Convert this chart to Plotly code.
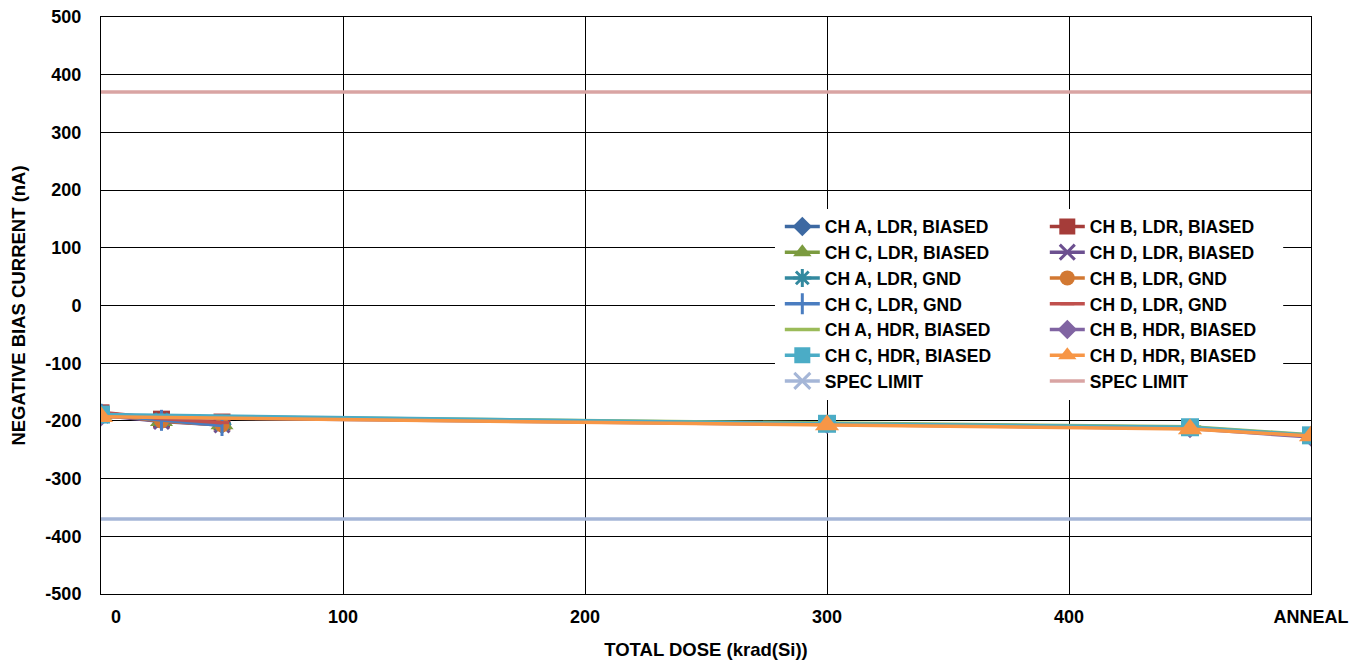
import plotly.graph_objects as go

# ---------------- data ----------------
X_LDR = [0, 25, 50]
X_HDR = [0, 300, 450, 500]          # 500 == ANNEAL position
SPEC_X = [-30, 530]

names = [
    "CH A, LDR, BIASED", "CH B, LDR, BIASED",
    "CH C, LDR, BIASED", "CH D, LDR, BIASED",
    "CH A, LDR, GND", "CH B, LDR, GND",
    "CH C, LDR, GND", "CH D, LDR, GND",
    "CH A, HDR, BIASED", "CH B, HDR, BIASED",
    "CH C, HDR, BIASED", "CH D, HDR, BIASED",
    "SPEC LIMIT", "SPEC LIMIT",
]

ch_a_ldr_biased = [-188, -199, -206]
ch_b_ldr_biased = [-186, -197, -202]
ch_c_ldr_biased = [-189, -200, -206]
ch_d_ldr_biased = [-190, -201, -207]
ch_a_ldr_gnd = [-186, -198, -205]
ch_b_ldr_gnd = [-188, -200, -207]
ch_c_ldr_gnd = [-189, -199, -208]
ch_d_ldr_gnd = [-185, -196, -203]
ch_a_hdr_biased = [-191, -204, -210, -224]
ch_b_hdr_biased = [-193, -206, -213, -228]
ch_c_hdr_biased = [-189, -205, -211, -225]
ch_d_hdr_biased = [-193, -207, -214, -226]
spec_low = [-370, -370]
spec_high = [370, 370]

x_tickvals = [0, 100, 200, 300, 400, 500]
x_ticktext = ["\u00a0" * 6 + "0", "100", "200", "300", "400", "ANNEAL"]
y_tickvals = [-500, -400, -300, -200, -100, 0, 100, 200, 300, 400, 500]
y_ticktext = ["-500", "-400", "-300", "-200", "-100", "0", "100", "200", "300", "400", "500"]

series = [
    (X_LDR, ch_a_ldr_biased), (X_LDR, ch_b_ldr_biased),
    (X_LDR, ch_c_ldr_biased), (X_LDR, ch_d_ldr_biased),
    (X_LDR, ch_a_ldr_gnd), (X_LDR, ch_b_ldr_gnd),
    (X_LDR, ch_c_ldr_gnd), (X_LDR, ch_d_ldr_gnd),
    (X_HDR, ch_a_hdr_biased), (X_HDR, ch_b_hdr_biased),
    (X_HDR, ch_c_hdr_biased), (X_HDR, ch_d_hdr_biased),
    (SPEC_X, spec_low), (SPEC_X, spec_high),
]

# ---------------- styles ----------------
colors = ["#3D69A2", "#A53C39", "#7B9B3F", "#6C5090",
          "#33899F", "#D27832", "#4A7DC0", "#C0504D",
          "#9BBB59", "#8064A2", "#4BACC6", "#F79646",
          "#A5B6D7", "#D9A4A3"]
symbols = ["diamond", "square", "triangle-up", "x-thin",
           "asterisk", "circle", "line-ns", "line-ew",
           "line-ew", "diamond", "square", "triangle-up",
           "x-thin", None]
sizes = [15, 17, 20, 15, 15, 15, 15, 10, 16, 15, 18, 21, 16, 0]

FONT = "Liberation Sans, Arial, sans-serif"

fig = go.Figure()
for i, ((xs, ys), name) in enumerate(zip(series, names)):
    c = colors[i]
    sym = symbols[i]
    lg = "legend" if i % 2 == 0 else "legend2"
    if sym is None:
        mode = "lines"
        marker = None
    else:
        mode = "lines+markers"
        thin = sym in ("x-thin", "asterisk", "line-ns", "line-ew")
        marker = dict(symbol=sym, size=sizes[i], color=c,
                      line=dict(color=c, width=3 if thin else 0))
    fig.add_trace(go.Scatter(
        x=xs, y=ys, name=name, mode=mode,
        line=dict(color=c, width=3.5),
        marker=marker,
        legend=lg, legendgroup=f"g{i}",
        showlegend=True,
    ))

tick_font = dict(family=FONT, size=18, color="black", weight="bold")
title_font = dict(family=FONT, size=18.5, color="black", weight="bold")
leg_font = dict(family=FONT, size=17.5, color="black", weight="bold")

# the page body adds an 8px offset; the figure is sized to fit the window
fig.update_layout(
    width=1351, height=652,
    margin=dict(l=93, r=48, t=9, b=66),
    paper_bgcolor="white", plot_bgcolor="white",
    font=dict(family=FONT, size=18, color="black", weight="bold"),
    xaxis=dict(
        range=[0, 500], tickmode="array", tickvals=x_tickvals, ticktext=x_ticktext,
        showgrid=True, gridcolor="black", gridwidth=1,
        showline=True, linecolor="black", linewidth=1, mirror=True,
        zeroline=False, ticks="", tickfont=tick_font, automargin=False,
        ticklabelstandoff=6,
        title=dict(text="TOTAL DOSE (krad(Si))", font=title_font, standoff=18),
    ),
    yaxis=dict(
        range=[-500, 500], tickmode="array", tickvals=y_tickvals, ticktext=y_ticktext,
        showgrid=True, gridcolor="black", gridwidth=1,
        showline=True, linecolor="black", linewidth=1, mirror=True,
        zeroline=False, ticks="", tickfont=tick_font, automargin=False,
        ticklabelstandoff=15, ticklabeloverflow="allow",
        title=dict(text="NEGATIVE BIAS CURRENT (nA)", font=title_font, standoff=14),
    ),
    legend=dict(
        x=0.561, y=0.337, xref="paper", yref="paper",
        xanchor="left", yanchor="bottom",
        bgcolor="white", borderwidth=0,
        font=leg_font,
        itemwidth=35, tracegroupgap=0, traceorder="normal",
    ),
    legend2=dict(
        x=0.780, y=0.337, xref="paper", yref="paper",
        xanchor="left", yanchor="bottom",
        bgcolor="white", borderwidth=0,
        font=leg_font,
        itemwidth=35, tracegroupgap=0, traceorder="normal",
    ),
    shapes=[dict(type="rect", xref="paper", yref="paper",
                 x0=0.557, x1=0.977, y0=0.3605, y1=0.6516,
                 fillcolor="white", line=dict(width=0), layer="above")],
    showlegend=True,
)

fig.write_html("out.html")
